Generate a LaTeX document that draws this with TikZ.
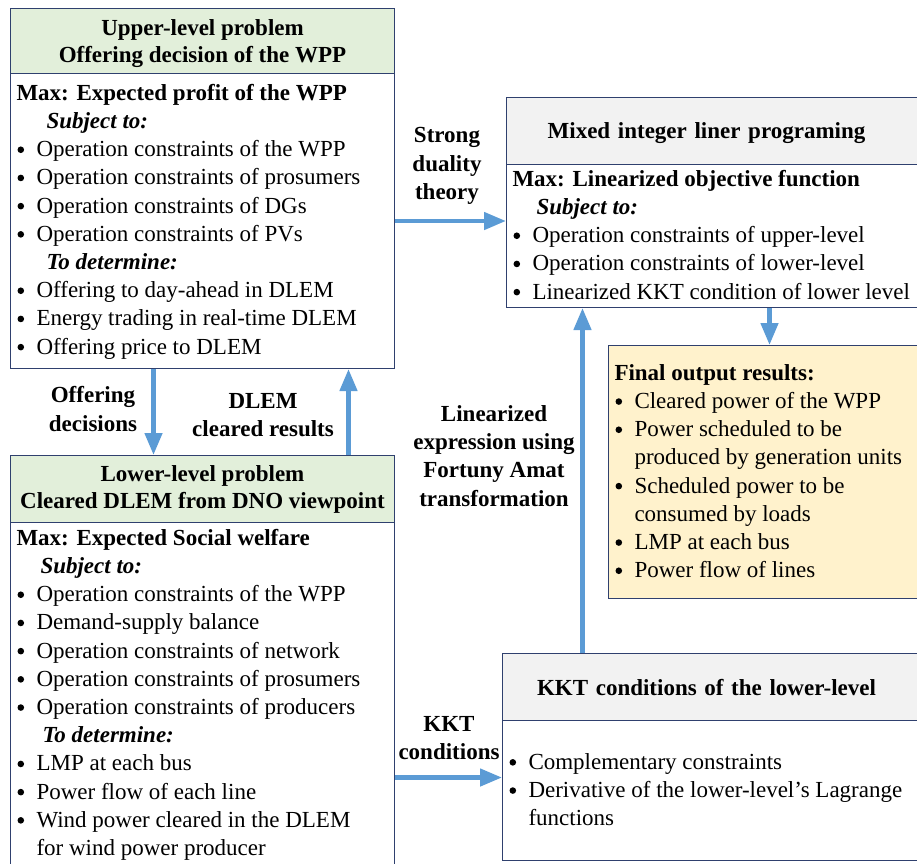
\documentclass[tikz,border=0pt]{standalone}
\usepackage{fontspec}
\setmainfont{Liberation Serif}
\usepackage{tikz}
\usetikzlibrary{arrows.meta,positioning,calc}
\definecolor{boxline}{HTML}{2F406E}
\definecolor{hdrgreen}{HTML}{E2EFDA}
\definecolor{hdrgray}{HTML}{F2F2F2}
\definecolor{outyellow}{HTML}{FFF2CC}
\definecolor{flowblue}{HTML}{5B9BD5}
\tikzstyle{header}=[draw=boxline,line width=1pt,anchor=north west,inner sep=0pt,align=center,font=\bfseries\fontsize{23}{27}\selectfont]
\tikzstyle{bodybox}=[draw=boxline,line width=1pt,anchor=north west,inner xsep=6pt,inner ysep=0pt,font=\fontsize{23}{28.2}\selectfont]
\tikzstyle{flow}=[draw=flowblue,line width=4.5pt,-{Triangle[length=22pt,width=17pt]}]
\tikzstyle{lbl}=[font=\bfseries\fontsize{23}{28.2}\selectfont,align=center]
\newcommand{\itm}{\makebox[20pt][l]{\hspace*{1pt}\raisebox{3.6pt}{\tikz\fill[black] (0,0) circle (3.3pt);}}}
\newcommand{\contline}{\hspace*{20pt}}
\newcommand{\subhead}[2][30pt]{\hspace*{#1}\textbf{\textit{#2}}}

\begin{document}
\begin{tikzpicture}[x=1pt,y=-1pt]
    \useasboundingbox (0,0) rectangle (917,863);
    \clip (0,0) rectangle (917,863);

    % upper level
    \node[header,fill=hdrgreen,minimum width=384pt,minimum height=65pt] (uphdr) at (10,8)
        {\rule{0pt}{21pt}Upper-level problem\\Offering decision of the WPP};
    \node[bodybox] (upbody) at (10,73) {\parbox[c][295pt][t]{372pt}{\raggedright\vspace*{7pt}%
        \strut\textbf{Max: Expected profit of the WPP}\\
        \subhead{Subject to:}\\
        \itm Operation constraints of the WPP\\
        \itm Operation constraints of prosumers\\
        \itm Operation constraints of DGs\\
        \itm Operation constraints of PVs\\
        \subhead{To determine:}\\
        \itm Offering to day-ahead in DLEM\\
        \itm Energy trading in real-time DLEM\\
        \itm Offering price to DLEM}};

    % lower level
    \node[header,fill=hdrgreen,minimum width=384pt,minimum height=67pt] (lowhdr) at (10,455)
        {Lower-level problem\\Cleared DLEM from DNO viewpoint};
    \node[bodybox] (lowbody) at (10,522) {\parbox[c][353pt][t]{372pt}{\raggedright\vspace*{3pt}%
        \strut\textbf{Max: Expected Social welfare}\\
        \subhead[24pt]{Subject to:}\\
        \itm Operation constraints of the WPP\\
        \itm Demand-supply balance\\
        \itm Operation constraints of network\\
        \itm Operation constraints of prosumers\\
        \itm Operation constraints of producers\\
        \subhead[26pt]{To determine:}\\
        \itm LMP at each bus\\
        \itm Power flow of each line\\
        \itm Wind power cleared in the DLEM\\
        \contline for wind power producer}};

    % MILP
    \node[header,fill=hdrgray,minimum width=424pt,minimum height=67pt,text width=424pt,align=left,
          text height=24pt,text depth=10pt] (milphdr) at (506,97)
        {\makebox[400pt]{Mixed integer liner programing}};
    \node[bodybox] (milpbody) at (506,164) {\parbox[c][143pt][t]{412pt}{\raggedright\vspace*{2pt}%
        \strut\textbf{Max: Linearized objective function}\\
        \subhead[24pt]{Subject to:}\\
        \itm Operation constraints of upper-level\\
        \itm Operation constraints of lower-level\\
        \itm Linearized KKT condition of lower level}};

    % final results
    \node[bodybox,fill=outyellow] (outbox) at (608,345) {\parbox[c][253pt][t]{310pt}{\raggedright\vspace*{15pt}%
        \strut\textbf{Final output results:}\\
        \itm Cleared power of the WPP\\
        \itm Power scheduled to be\\
        \contline produced by generation units\\
        \itm Scheduled power to be\\
        \contline consumed by loads\\
        \itm LMP at each bus\\
        \itm Power flow of lines}};

    % KKT
    \node[header,fill=hdrgray,minimum width=428pt,minimum height=67pt,text width=428pt,align=left] (kkthdr) at (502,653)
        {\makebox[408pt]{KKT conditions of the lower-level}};
    \node[bodybox] (kktbody) at (502,720) {\parbox[c][140pt][t]{416pt}{\raggedright\vspace*{29pt}%
        \strut\itm Complementary constraints\\
        \itm Derivative of the lower-level's Lagrange\\
        \contline functions}};

    % labels
    \node[lbl] (lblduality) at (447,166) {Strong\\duality\\theory};
    \node[lbl] (lbloffer) at (93,409) {Offering\\decisions};
    \node[lbl] (lbldlem) at (263,415) {DLEM\\cleared results};
    \node[lbl] (lbllinear) at (494,456) {Linearized\\expression using\\Fortuny Amat\\transformation};
    \node[lbl] (lblkkt) at (449,738) {KKT\\conditions};

    % arrows
    \draw[flow] ([xshift=-49pt]upbody.south) -- ([xshift=-49pt]lowhdr.north);
    \draw[flow] ([xshift=146pt]lowhdr.north) -- ([xshift=146pt]upbody.south);
    \draw[flow] (upbody.east) -- (upbody.east -| milpbody.west);
    \draw[flow] (outbox.north |- milpbody.south) -- (outbox.north);
    \draw[flow] ([xshift=-134pt]kkthdr.north) -- ([xshift=-134pt]kkthdr.north |- milpbody.south);
    \draw[flow] ([yshift=13pt]kktbody.west -| lowbody.east) -- ([yshift=13pt]kktbody.west);
\end{tikzpicture}
\end{document}
